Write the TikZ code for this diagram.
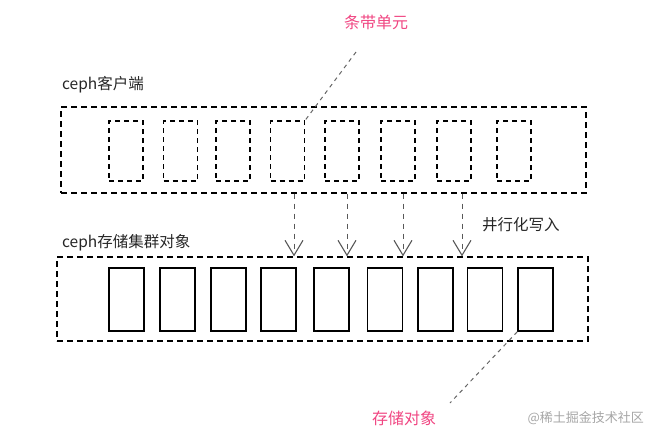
\documentclass[tikz,border=0pt]{standalone}
\usepackage{fontspec}
\newfontfamily\cjk{Noto Sans CJK SC}
\usetikzlibrary{arrows.meta}
\definecolor{tagpink}{RGB}{240,70,130}

\begin{document}
\begin{tikzpicture}[x=1pt,y=-1pt,
  frame/.style={draw, dash pattern=on 6pt off 4pt, line width=1.3pt, inner sep=0},
  stripe/.style={draw, dash pattern=on 5pt off 4pt, line width=1.2pt, minimum width=34pt, minimum height=60pt, inner sep=0},
  object/.style={draw, line width=1.4pt, minimum width=35pt, minimum height=63pt, inner sep=0},
  title/.style={font=\cjk\fontsize{15.5}{17}\selectfont, text=black!85, inner sep=0, anchor=west},
  tag/.style={font=\cjk\fontsize{16}{18}\selectfont, text=tagpink, inner sep=0},
  write/.style={draw=black!65, dash pattern=on 5pt off 5pt, line width=1pt, -{Straight Barb[length=15pt,width=18pt,line width=1.1pt]}},
  lead/.style={draw=black!60, dash pattern=on 4pt off 4pt, line width=1pt}]
\useasboundingbox (0,0) rectangle (650,440);

% client side
\node[frame, minimum width=525pt, minimum height=86pt] (client) at (323.5,150) {};
\foreach \x [count=\i] in {126,180.5,233,287.5,342,398,454,514}
  \node[stripe] (s\i) at (\x,151) {};
\node[title] (clientlbl) at (62,85) {ceph客户端};
\node[tag] (unit) at (376,22) {条带单元};
\coordinate (u0) at (356,52);
\draw[lead] (u0) -- (s4.north east);

% storage cluster
\node[frame, minimum width=531pt, minimum height=84pt] (store) at (322.5,299) {};
\foreach \x [count=\i] in {126.5,177.5,228.5,278.5,331.5,385,435.5,485,535.5}
  \node[object] (b\i) at (\x,299.5) {};
\node[title] (storelbl) at (62,243) {ceph存储集群对象};
\node[title] (paral) at (482,225) {井行化写入};
\node[tag] (obj) at (404,418) {存储对象};
\coordinate (o0) at (450,403);
\draw[lead] (b9.south west) -- (o0);

% parallel writes
\foreach \x in {294,347,403,462}
  \draw[write] (client.south -| \x,0) -- (store.north -| \x,0);

\node[font=\cjk\fontsize{13}{15}\selectfont, text=black!35, anchor=east, inner sep=0] (mark) at (644,418) {@稀土掘金技术社区};
\end{tikzpicture}
\end{document}
